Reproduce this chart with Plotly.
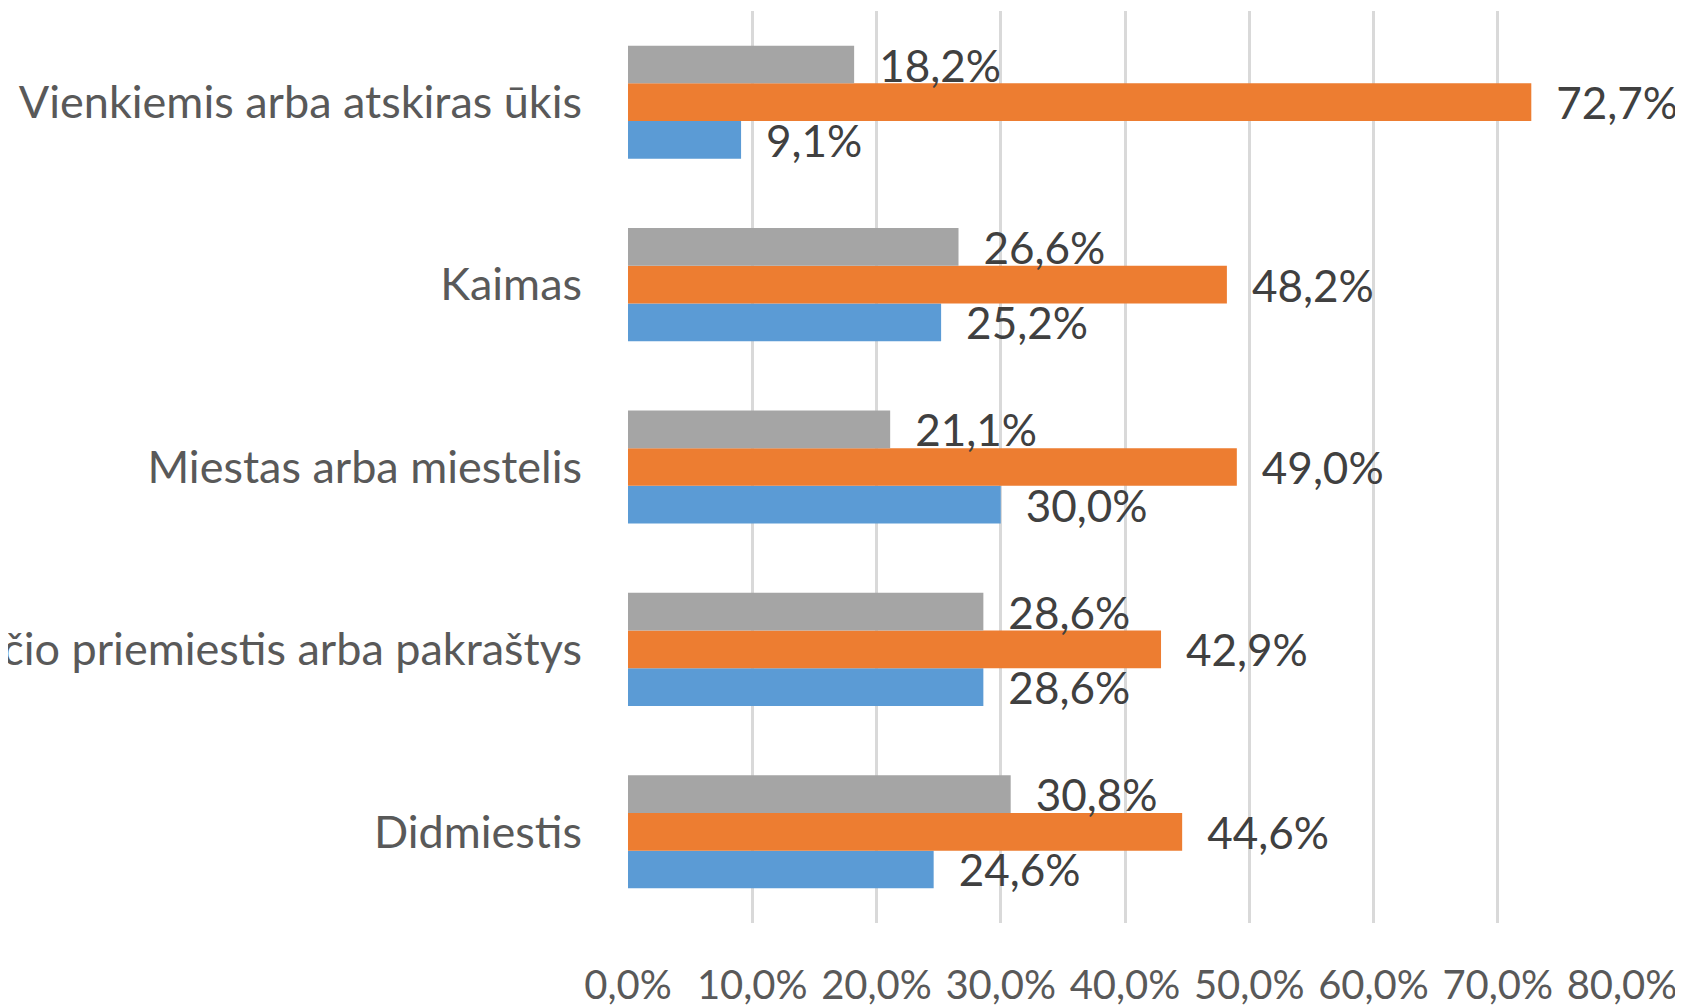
import plotly.graph_objects as go

# Categories listed bottom-to-top
categories = [
    "Didmiestis",
    "Didmiesčio priemiestis arba pakraštys",
    "Miestas arba miestelis",
    "Kaimas",
    "Vienkiemis arba atskiras ūkis",
]
blue_vals = [24.6, 28.6, 30.0, 25.2, 9.1]
orange_vals = [44.6, 42.9, 49.0, 48.2, 72.7]
gray_vals = [30.8, 28.6, 21.1, 26.6, 18.2]
tick_vals = [0, 10, 20, 30, 40, 50, 60, 70, 80]
tick_labels = ["0,0%", "10,0%", "20,0%", "30,0%", "40,0%", "50,0%", "60,0%", "70,0%", "80,0%"]

series = [
    ("Serija 1", blue_vals, "#5B9BD5"),
    ("Serija 2", orange_vals, "#ED7D31"),
    ("Serija 3", gray_vals, "#A5A5A5"),
]

def fmt(v):
    return "\u2002" + f"{v:.1f}".replace(".", ",") + "%"

fig = go.Figure()
for name, vals, color in series:
    fig.add_trace(go.Bar(
        y=categories, x=vals, orientation="h", name=name,
        marker=dict(color=color, line=dict(width=0)),
        text=[fmt(v) for v in vals], textposition="outside",
        textfont=dict(family="Lato", size=44, color="#404040"),
        constraintext="none", cliponaxis=False,
    ))

fig.update_layout(
    width=1683, height=1008,
    margin=dict(l=620, r=69, t=3, b=93),
    barmode="group", bargap=0.38, bargroupgap=0,
    plot_bgcolor="white", paper_bgcolor="white",
    showlegend=False, separators=",.",
    uniformtext=dict(mode=False),
)
fig.update_xaxes(
    range=[0, 80], tickvals=tick_vals, ticktext=tick_labels,
    showgrid=True, gridcolor="#D9D9D9", gridwidth=2.5,
    zeroline=False, showline=False,
    tickfont=dict(family="Lato", size=40, color="#595959"),
    ticklabelstandoff=35,
)
fig.update_yaxes(
    categoryorder="array", categoryarray=categories,
    showgrid=False, showline=False, zeroline=False,
    tickfont=dict(family="Lato", size=45, color="#595959"),
    ticklabelstandoff=45, automargin=False,
)
fig.write_html("out.html")
